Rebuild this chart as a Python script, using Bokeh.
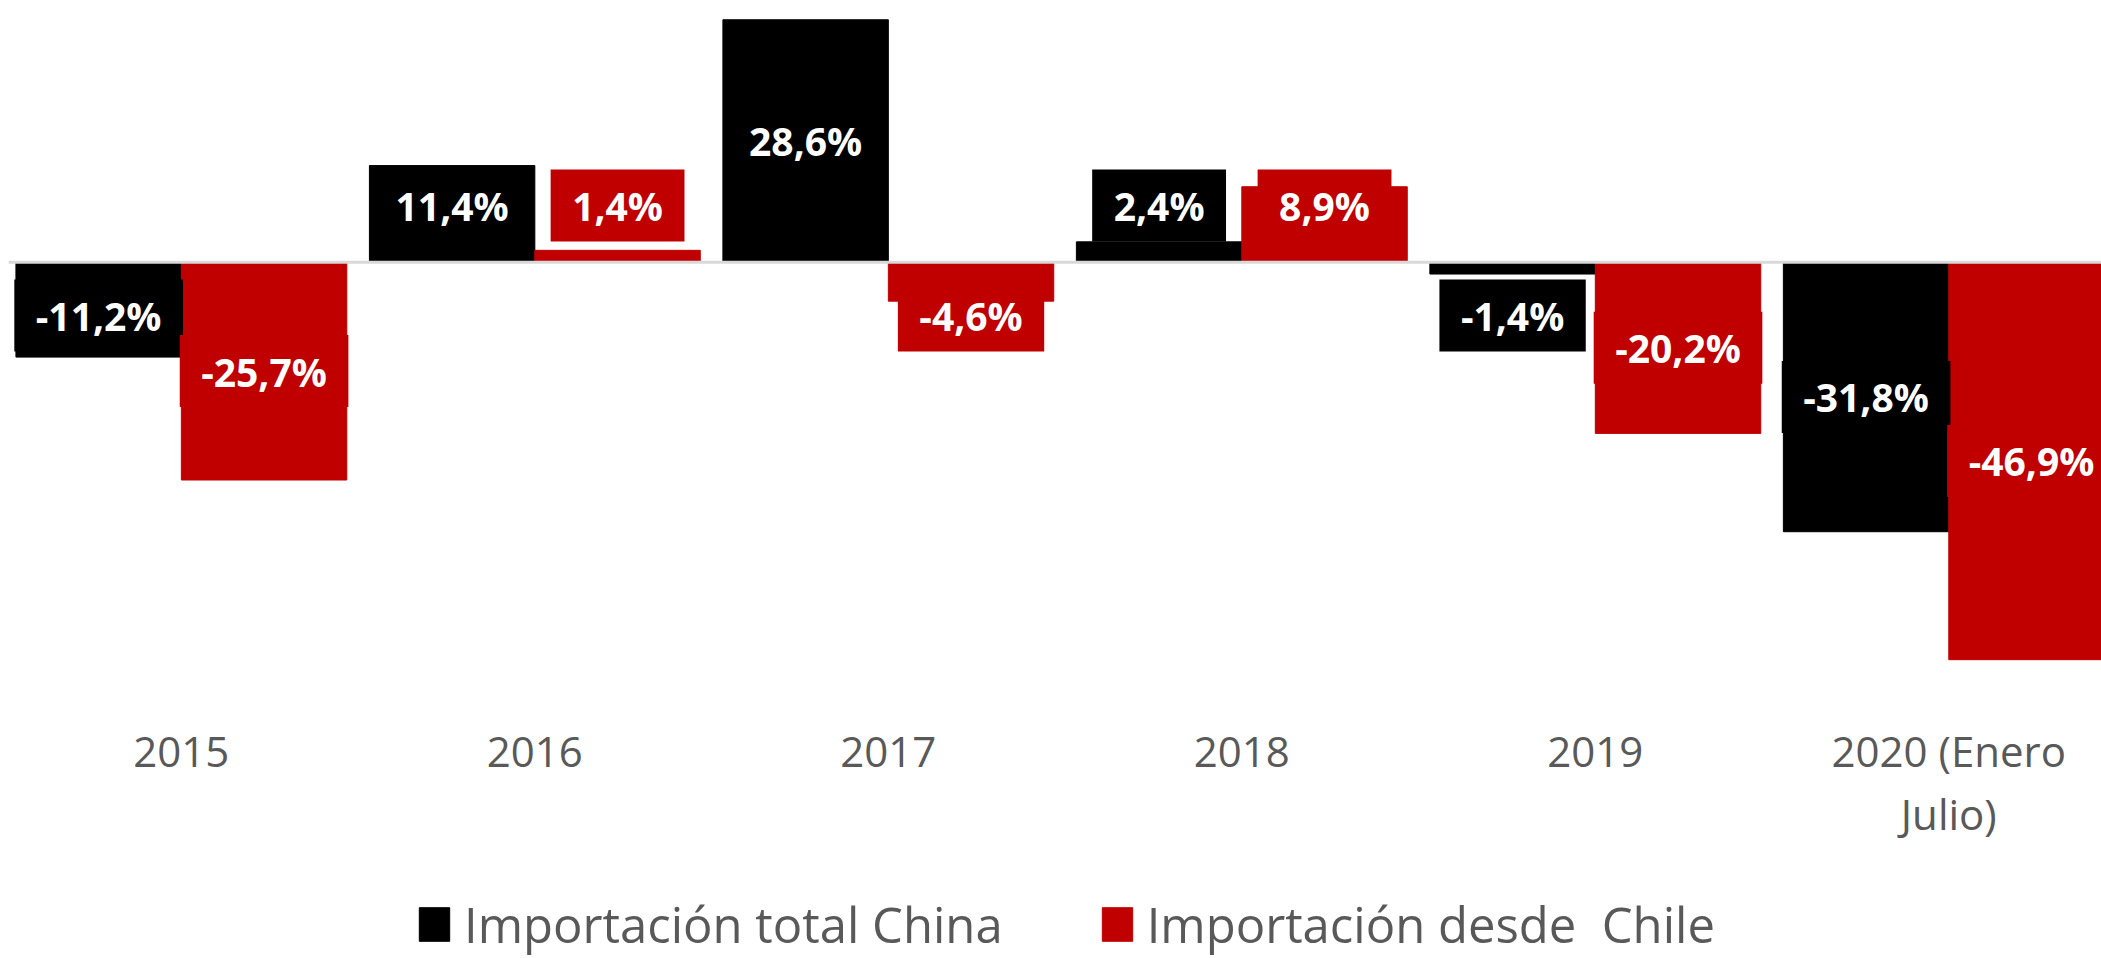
from bokeh.plotting import figure
from bokeh.models import (ColumnDataSource, LabelSet, Span, Legend, LegendItem,
                          Range1d, FixedTicker)
from bokeh.transform import dodge
from bokeh.core.properties import value
from bokeh.embed import file_html
from bokeh.resources import INLINE

# ---- data ----
categories = ["2015", "2016", "2017", "2018", "2019", "2020 (Enero Julio)"]
china = [-11.2, 11.4, 28.6, 2.4, -1.4, -31.8]
chile = [-25.7, 1.4, -4.6, 8.9, -20.2, -46.9]
series_names = ["Importación total China", "Importación desde  Chile"]
colors = ["#000000", "#C00000"]

FONT = "Open Sans"
LABEL_PX = 39
BAR_W = 0.468
OFF = BAR_W / 2
AXIS_AT = -51.71          # where the category axis is drawn (value units)
# approximate advance widths (em) of Open Sans Bold for label box sizing
CHAR_EM = {"-": 0.32, ",": 0.29, "%": 0.87}


def fmt(v):
    return f"{v:.1f}%".replace(".", ",")


def label_y(v):
    return max(v / 2, 6.7) if v >= 0 else min(v / 2, -6.3)


def box_w(t):
    return sum(CHAR_EM.get(ch, 0.572) for ch in t) * LABEL_PX + 44


xs = list(range(len(categories)))
data = dict(x=xs)
for key, vals in (("china", china), ("chile", chile)):
    data[key] = vals
    data[f"{key}_txt"] = [fmt(v) for v in vals]
    data[f"{key}_ly"] = [label_y(v) for v in vals]
    data[f"{key}_bw"] = [box_w(fmt(v)) for v in vals]
src = ColumnDataSource(data)

p = figure(frame_width=2093, frame_height=962,
           x_range=Range1d(-0.489, 5.432), y_range=Range1d(-83.57, 29.93),
           output_backend="svg", toolbar_location=None,
           y_axis_location=None, min_border=0, min_border_top=8, min_border_left=8,
           outline_line_color=None)
p.grid.visible = False
p.background_fill_color = "white"
p.border_fill_color = "white"

r1 = p.vbar(x=dodge("x", -OFF, range=p.x_range), top="china", bottom=0, width=BAR_W,
            color=colors[0], source=src)
r2 = p.vbar(x=dodge("x", OFF, range=p.x_range), top="chile", bottom=0, width=BAR_W,
            color=colors[1], source=src)

p.add_layout(Span(location=0, dimension="width", line_color="#d9d9d9", line_width=3))

for key, off, col in (("china", -OFF, colors[0]), ("chile", OFF, colors[1])):
    p.rect(x=dodge("x", off, range=p.x_range), y=f"{key}_ly", width=f"{key}_bw",
           height=72, width_units="screen", height_units="screen",
           fill_color=col, line_color=None, source=src)
    p.add_layout(LabelSet(x=dodge("x", off, range=p.x_range), y=f"{key}_ly",
                          text=f"{key}_txt", source=src,
                          text_align="center", text_baseline="middle",
                          text_color="white", text_font=value(FONT),
                          text_font_style="bold", text_font_size=f"{LABEL_PX}px"))

ax = p.xaxis[0]
ax.fixed_location = AXIS_AT
ax.ticker = FixedTicker(ticks=xs)
ax.major_label_overrides = {i: c.replace("(Enero ", "(Enero\n") for i, c in zip(xs, categories)}
ax.axis_line_color = None
ax.major_tick_line_color = None
ax.minor_tick_line_color = None
ax.major_label_text_font = FONT
ax.major_label_text_font_size = "42px"
ax.major_label_text_color = "#595959"
ax.major_label_text_line_height = 1.09
ax.major_label_standoff = 16

legend = Legend(items=[LegendItem(label=series_names[0], renderers=[r1]),
                       LegendItem(label=series_names[1], renderers=[r2])],
                orientation="horizontal", location=(407, 13),
                label_text_font=FONT, label_text_font_size="49px",
                label_text_color="#595959", glyph_width=38, glyph_height=42,
                spacing=95, label_standoff=11, border_line_color=None,
                background_fill_alpha=0, margin=0, padding=0)
p.add_layout(legend, "center")

open("out.html", "w").write(file_html(p, INLINE))
